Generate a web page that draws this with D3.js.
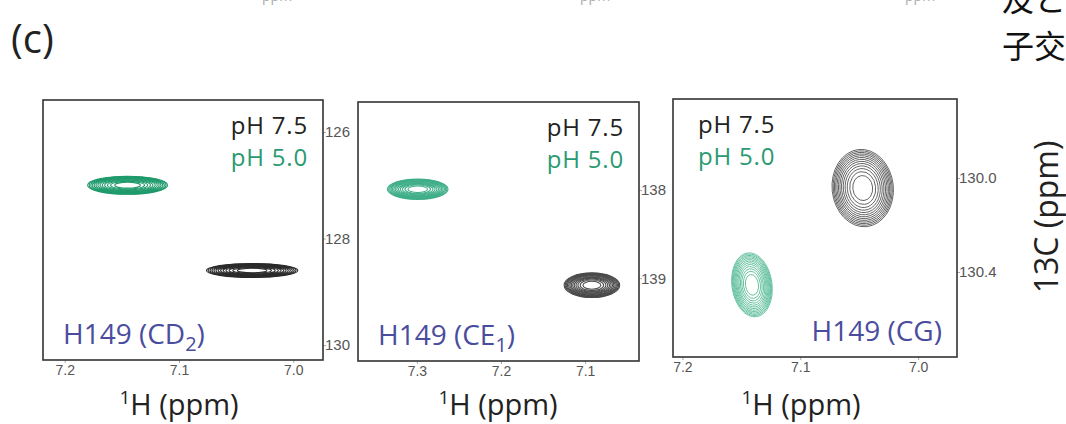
<!DOCTYPE html>
<html>
<head>
<meta charset="utf-8">
<script src="https://cdn.jsdelivr.net/npm/d3@7"></script>
<style>
  body { margin: 0; background: #fff; }
  svg { display: block; font-family: "Open Sans", "Noto Sans", sans-serif; }
  .tick text { fill: #555; }
</style>
</head>
<body>
<svg id="spectra"></svg>
<script>
// peak data (ppm)
let panelNames = ['H149 (CD', 'H149 (CE', 'H149 (CG)'];
let panelSubs = ['2', '1', ''];
let xDomains = [[7.219, 6.974], [7.370, 7.036], [7.208, 6.967]];
let yDomains = [[125.4, 130.28], [137.0, 139.94], [129.664, 130.762]];
let xTicks = [[7.2, 7.1, 7.0], [7.3, 7.2, 7.1], [7.2, 7.1, 7.0]];
let yTicks = [[126, 128, 130], [138, 139], [130.0, 130.4]];
let yTickFormat = ['d', 'd', '.1f'];

// pH 7.5 peaks (black)
let peakX75 = [7.036, 7.092, 7.047];
let peakY75 = [128.6, 139.08, 130.043];
let widthX75 = [0.040, 0.033, 0.026];
let widthY75 = [0.13, 0.14, 0.165];

// pH 5.0 peaks (green)
let peakX50 = [7.145, 7.299, 7.141];
let peakY50 = [127.0, 137.99, 130.455];
let widthX50 = [0.035, 0.036, 0.017];
let widthY50 = [0.17, 0.115, 0.137];

// configuration
let config = { svg: { width: 1066, height: 424 } };
let boxes = [
  { x: 43, y: 100, w: 280, h: 260, title: 179 },
  { x: 358, y: 102, w: 281, h: 259, title: 498 },
  { x: 673, y: 99, w: 284, h: 258, title: 801 }
];
let colors75 = ['#2b2b2b', '#4a4a4a', '#5a5a5a'];
let colors50 = ['#1f9a6c', '#3fae88', '#5fbf9c'];
let tilt75 = [0, 0, -6];
let tilt50 = [0, 0, -8];

let svg = d3.select('svg#spectra')
  .attr('width', config.svg.width)
  .attr('height', config.svg.height);

// cropped context from the surrounding page
svg.append('text').attr('x', 11).attr('y', 53)
  .style('font-size', '40px').style('fill', '#222').text('(c)');
svg.append('text').attr('x', 1002).attr('y', 11)
  .style('font-family', '"Noto Sans CJK SC"').style('font-size', '32px')
  .style('fill', '#111').text('及と');
svg.append('text').attr('x', 1002).attr('y', 58)
  .style('font-family', '"Noto Sans CJK SC"').style('font-size', '32px')
  .style('fill', '#111').text('子交');
[262, 580, 905].forEach(function(x) {
  svg.append('text').attr('x', x).attr('y', 1)
    .style('font-size', '14px').style('fill', '#aaa').text('ppm');
});

// ring fractions of a gaussian peak at geometric contour levels
let levels = d3.range(13).map(k => Math.sqrt(1 - Math.log(Math.pow(1.28, k)) / Math.log(Math.pow(1.28, 13.4))));

function drawPeak(g, sx, sy, cx, cy, wx, wy, color, tilt, sw) {
  let px = sx(cx), py = sy(cy);
  let rx = Math.abs(sx(cx + wx) - px), ry = Math.abs(sy(cy + wy) - py);
  let pg = g.append('g').attr('transform', 'translate(' + px + ',' + py + ') rotate(' + tilt + ')');
  pg.selectAll('ellipse').data(levels).enter().append('ellipse')
    .attr('rx', d => d * rx).attr('ry', d => d * ry)
    .style('fill', 'none').style('stroke', color).style('stroke-width', sw);
}

boxes.forEach(function(b, i) {
  let sx = d3.scaleLinear().domain(xDomains[i]).range([b.x, b.x + b.w]);
  let sy = d3.scaleLinear().domain(yDomains[i]).range([b.y, b.y + b.h]);
  let g = svg.append('g').attr('class', 'panel');

  // axes
  let ax = d3.axisBottom(sx).tickValues(xTicks[i]).tickSize(3).tickFormat(d3.format('.1f'));
  let gx = g.append('g').attr('transform', 'translate(0,' + (b.y + b.h) + ')').call(ax);
  gx.select('.domain').remove();
  gx.selectAll('line').style('stroke', '#aaa');
  gx.selectAll('text').style('font-size', '14px').attr('y', 2).attr('dy', '0.95em');

  let ay = d3.axisRight(sy).tickValues(yTicks[i]).tickSize(3).tickFormat(d3.format(yTickFormat[i]));
  let gy = g.append('g').attr('transform', 'translate(' + (b.x + b.w) + ',0)').call(ay);
  gy.select('.domain').remove();
  gy.selectAll('line').style('stroke', '#aaa');
  gy.selectAll('text').style('font-size', '15px').attr('x', 2);

  // peaks
  let sw = i === 2 ? 0.9 : 1.1;
  drawPeak(g, sx, sy, peakX50[i], peakY50[i], widthX50[i], widthY50[i], colors50[i], tilt50[i], sw);
  drawPeak(g, sx, sy, peakX75[i], peakY75[i], widthX75[i], widthY75[i], colors75[i], tilt75[i], sw);

  // frame
  g.append('rect').attr('x', b.x).attr('y', b.y).attr('width', b.w).attr('height', b.h)
    .style('fill', 'none').style('stroke', '#333').style('stroke-width', 1.6);

  // legend text
  let right = i < 2;
  let lx = right ? b.x + b.w - 15 : b.x + 25;
  let anchor = right ? 'end' : 'start';
  g.append('text').attr('x', lx).attr('y', b.y + 34).attr('text-anchor', anchor)
    .style('font-size', '24px').style('letter-spacing', '0.8px').style('fill', '#222').text('pH 7.5');
  g.append('text').attr('x', lx).attr('y', b.y + 66).attr('text-anchor', anchor)
    .style('font-size', '24px').style('letter-spacing', '0.8px').style('fill', '#2a9a70').text('pH 5.0');

  // residue label
  let nt = g.append('text').style('font-size', '28px').style('fill', '#4a4c9e');
  if (i < 2) {
    nt.attr('x', b.x + 20).attr('y', b.y + b.h - 16);
    nt.append('tspan').text(panelNames[i]);
    nt.append('tspan').attr('dy', 7).style('font-size', '20px').text(panelSubs[i]);
    nt.append('tspan').attr('dy', -7).text(')');
  } else {
    nt.attr('x', b.x + b.w - 15).attr('y', b.y + b.h - 16).attr('text-anchor', 'end').text(panelNames[i]);
  }

  // x axis title
  let t = g.append('text').attr('x', b.title).attr('y', 415).attr('text-anchor', 'middle')
    .style('font-size', '29px').style('fill', '#222');
  t.append('tspan').attr('dy', -11).style('font-size', '19px').text('1');
  t.append('tspan').attr('dy', 11).text('H (ppm)');
});

// y axis title
svg.append('text').attr('transform', 'translate(1058,217) rotate(-90)')
  .attr('text-anchor', 'middle').style('font-size', '32px').style('fill', '#222')
  .text('13C (ppm)');
</script>
</body>
</html>
